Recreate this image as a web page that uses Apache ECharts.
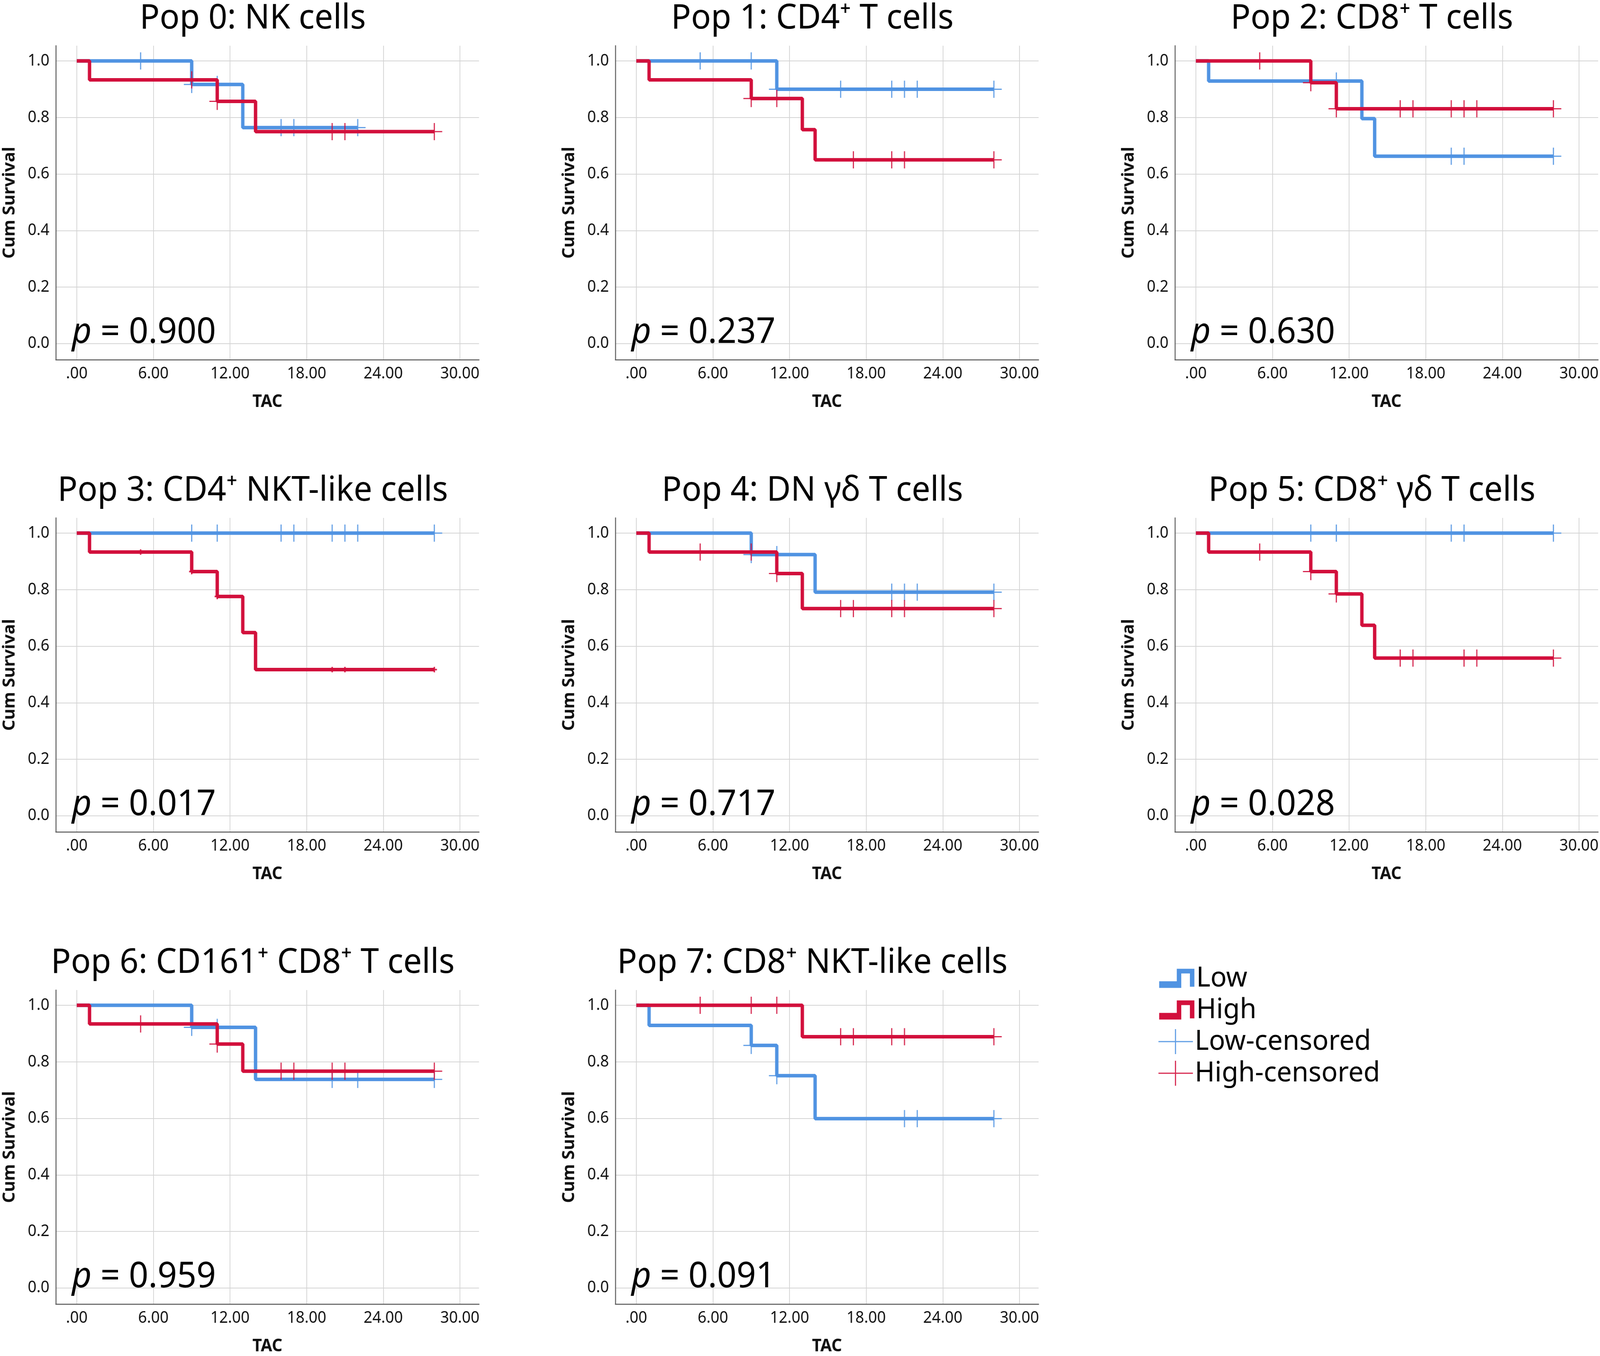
<!DOCTYPE html>
<html>
<head>
<meta charset="utf-8">
<script src="https://cdn.jsdelivr.net/npm/echarts@6/dist/echarts.min.js"></script>
<style>
html,body{margin:0;padding:0;background:#ffffff;overflow:hidden;}
#c{width:4272px;height:3472px;transform-origin:0 0;}
</style>
</head>
<body>
<div id="c"></div>
<script>
// ---------------- DATA ----------------
const titles = [
  'Pop 0: NK cells',
  'Pop 1: CD4\u207A T cells',
  'Pop 2: CD8\u207A T cells',
  'Pop 3: CD4\u207A NKT-like cells',
  'Pop 4: DN \u03B3\u03B4 T cells',
  'Pop 5: CD8\u207A \u03B3\u03B4 T cells',
  'Pop 6: CD161\u207A CD8\u207A T cells',
  'Pop 7: CD8\u207A NKT-like cells'
];
const pValues = ['0.900', '0.237', '0.630', '0.017', '0.717', '0.028', '0.959', '0.091'];

const xTickValues = [0, 6, 12, 18, 24, 30];
const xTickLabels = ['.00', '6.00', '12.00', '18.00', '24.00', '30.00'];
const yTickValues = [0, 0.2, 0.4, 0.6, 0.8, 1.0];
const yTickLabels = ['0.0', '0.2', '0.4', '0.6', '0.8', '1.0'];
const xAxisName = 'TAC';
const yAxisName = 'Cum Survival';
const groupNames = ['Low', 'High'];
const censorNames = ['Low-censored', 'High-censored'];

// Kaplan-Meier steps: [time, survival after that time]
const lowSteps = [
  [[0, 1], [9, 0.917], [13, 0.764]],
  [[0, 1], [11, 0.90]],
  [[0, 1], [1, 0.929], [13, 0.796], [14, 0.663]],
  [[0, 1]],
  [[0, 1], [9, 0.924], [14, 0.791]],
  [[0, 1]],
  [[0, 1], [9, 0.922], [14, 0.738]],
  [[0, 1], [1, 0.929], [9, 0.858], [11, 0.751], [14, 0.599]]
];
const highSteps = [
  [[0, 1], [1, 0.933], [11, 0.857], [14, 0.750]],
  [[0, 1], [1, 0.933], [9, 0.867], [13, 0.757], [14, 0.650]],
  [[0, 1], [9, 0.923], [11, 0.831]],
  [[0, 1], [1, 0.933], [9, 0.864], [11, 0.776], [13, 0.648], [14, 0.517]],
  [[0, 1], [1, 0.933], [11, 0.857], [13, 0.733]],
  [[0, 1], [1, 0.933], [9, 0.864], [11, 0.785], [13, 0.674], [14, 0.558]],
  [[0, 1], [1, 0.934], [11, 0.863], [13, 0.767]],
  [[0, 1], [13, 0.889]]
];
// censoring times
const lowCensored = [
  [5, 9, 11, 16, 17, 22],
  [5, 9, 11, 16, 20, 21, 22, 28],
  [11, 20, 21, 28],
  [9, 11, 16, 17, 20, 21, 22, 28],
  [9, 11, 20, 21, 22, 28],
  [9, 11, 20, 21, 28],
  [9, 11, 20, 22, 28],
  [9, 11, 21, 22, 28]
];
const highCensored = [
  [9, 11, 20, 21, 28],
  [9, 11, 17, 20, 21, 28],
  [5, 9, 11, 16, 17, 20, 21, 22, 28],
  [5, 9, 11, 20, 21, 28],
  [5, 9, 11, 16, 17, 20, 21, 28],
  [5, 9, 11, 16, 17, 21, 22, 28],
  [5, 11, 16, 17, 20, 21, 28],
  [5, 9, 11, 16, 17, 20, 21, 28]
];

// ---------------- STYLE / LAYOUT ----------------
const DESIGN_W = 4272, DESIGN_H = 3472;
const BLUE = '#5093e2';
const RED = '#d2103c';
const FONT = 'Noto Sans';
const GRID_LEFT0 = 149, GRID_TOP0 = 117, COL_STEP = 1494, ROW_STEP = 1209;
const GRID_W = 1130, GRID_H = 804;
const PLUS = 'path://M-1.5,-22h3v44h-3zM-21,-1.5h42v3h-42z';
const PLUS_SMALL = 'path://M-2,-7h4v14h-4zM-7,-2h14v4h-14z';
const STEP_ICON = 'path://M0,32L47,32L47,0L94,0L94,46L82,46L82,12L59,12L59,49L0,49Z';
const PLUS_ICON = 'path://M44,0h3v64h-3zM0,30.5h92v3h-92z';

// fit the design canvas into whatever viewport the browser really has
(function fit() {
  const el = document.getElementById('c');
  const sx = window.innerWidth / DESIGN_W, sy = window.innerHeight / DESIGN_H;
  if (Math.abs(sx - 1) > 0.001 || Math.abs(sy - 1) > 0.001) {
    el.style.transform = 'scale(' + sx + ',' + sy + ')';
  }
})();

function survivalAt(steps, t) {
  let s = steps[0][1];
  for (const p of steps) { if (p[0] <= t) s = p[1]; }
  return s;
}
function curve(steps, cens) {
  const end = Math.max(steps[steps.length - 1][0], ...cens);
  return steps.concat([[end, steps[steps.length - 1][1]]]);
}

const grids = [], xAxes = [], yAxes = [], series = [], graphics = [];
for (let i = 0; i < 8; i++) {
  const r = Math.floor(i / 3), c = i % 3;
  const left = GRID_LEFT0 + COL_STEP * c;
  const top = GRID_TOP0 + ROW_STEP * r;
  grids.push({left: left, top: top, width: GRID_W, height: GRID_H, outerBoundsMode: 'none', containLabel: false});
  xAxes.push({
    gridIndex: i, type: 'value', min: -1.64, max: 31.5,
    axisLine: {show: true, onZero: false, lineStyle: {color: '#555555', width: 2.5}},
    axisTick: {show: false, customValues: xTickValues},
    axisLabel: {customValues: xTickValues, fontSize: 41, fontFamily: FONT, color: '#111', margin: 16,
      formatter: v => xTickLabels[xTickValues.indexOf(v)] ?? String(v)},
    splitLine: {show: true, lineStyle: {color: '#d4d4d4', width: 2}},
    name: xAxisName, nameLocation: 'middle', nameGap: 86,
    nameTextStyle: {fontSize: 44, fontWeight: 'bold', fontFamily: FONT, color: '#111'}
  });
  yAxes.push({
    gridIndex: i, type: 'value', min: -0.057, max: 1.054,
    axisLine: {show: true, onZero: false, lineStyle: {color: '#555555', width: 2.5}},
    axisTick: {show: false, customValues: yTickValues},
    axisLabel: {customValues: yTickValues, fontSize: 41, fontFamily: FONT, color: '#111', margin: 17,
      formatter: v => {
        const k = yTickValues.findIndex(t => Math.abs(t - v) < 1e-9);
        return k >= 0 ? yTickLabels[k] : String(v);
      }},
    splitLine: {show: true, lineStyle: {color: '#d4d4d4', width: 2}},
    name: yAxisName, nameLocation: 'middle', nameGap: 101,
    nameTextStyle: {fontSize: 44, fontWeight: 'bold', fontFamily: FONT, color: '#111'}
  });
  const groups = [
    {steps: lowSteps[i], cens: lowCensored[i], color: BLUE, name: groupNames[0], cname: censorNames[0], small: false},
    {steps: highSteps[i], cens: highCensored[i], color: RED, name: groupNames[1], cname: censorNames[1], small: i === 3}
  ];
  groups.forEach((g, gi) => {
    series.push({
      type: 'line', name: g.name, xAxisIndex: i, yAxisIndex: i, step: 'end',
      data: curve(g.steps, g.cens), symbol: 'none', showSymbol: false, silent: true,
      lineStyle: {color: g.color, width: 9}, itemStyle: {color: g.color}, z: 2 + gi * 2
    });
    series.push({
      type: 'scatter', name: g.cname, xAxisIndex: i, yAxisIndex: i, silent: true,
      data: g.cens.map(t => [t, survivalAt(g.steps, t)]),
      symbol: g.small ? PLUS_SMALL : PLUS, symbolSize: g.small ? 14 : [42, 44],
      itemStyle: {color: g.color, opacity: 0.9}, z: 3 + gi * 2
    });
  });
  graphics.push({
    type: 'text', x: left + 526, y: top - 69, silent: true,
    style: {text: titles[i], fontSize: 88, fontFamily: FONT, fill: '#000', align: 'center', verticalAlign: 'middle'}
  });
  graphics.push({
    type: 'text', x: left + 43, y: top + 735, silent: true, z: 10,
    style: {
      text: '{i|p} = ' + pValues[i], fontSize: 91, fontFamily: FONT, fill: '#000', align: 'left', verticalAlign: 'middle',
      rich: {i: {fontSize: 91, fontFamily: FONT, fontStyle: 'italic', fill: '#000'}}
    }
  });
}

const chart = echarts.init(document.getElementById('c'), null, {renderer: 'canvas', width: DESIGN_W, height: DESIGN_H});
chart.setOption({
  backgroundColor: '#ffffff',
  animation: false,
  grid: grids, xAxis: xAxes, yAxis: yAxes, series: series,
  graphic: graphics,
  legend: [
    {
      data: [{name: groupNames[0], icon: STEP_ICON}, {name: groupNames[1], icon: STEP_ICON}],
      orient: 'vertical', left: 3090, top: 2464, itemWidth: 94, itemHeight: 49, itemGap: 9,
      selectedMode: false, symbolKeepAspect: false, itemStyle: {borderWidth: 0},
      textStyle: {fontSize: 72, fontFamily: FONT, color: '#000'}
    },
    {
      data: [{name: censorNames[0], icon: PLUS_ICON}, {name: censorNames[1], icon: PLUS_ICON}],
      orient: 'vertical', left: 3088, top: 2626, itemWidth: 92, itemHeight: 64, itemGap: 9,
      selectedMode: false, symbolKeepAspect: false, itemStyle: {borderWidth: 0},
      textStyle: {fontSize: 72, fontFamily: FONT, color: '#000'}
    }
  ]
});
</script>
</body>
</html>
